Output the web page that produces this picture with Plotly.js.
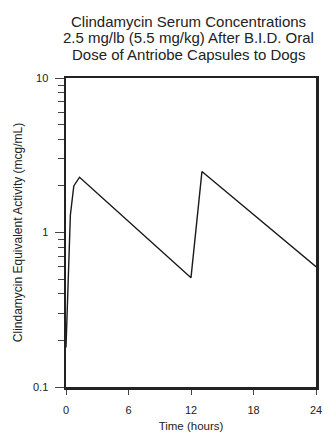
<!DOCTYPE html>
<html>
<head>
<meta charset="utf-8">
<script src="https://cdn.plot.ly/plotly-3.0.1.min.js"></script>
<style>html,body{margin:0;padding:0;background:#fff;}#chart{width:324px;height:435px;}</style>
</head>
<body>
<div id="chart"></div>
<script>
// Data
var timeHours = [0, 0.25, 0.42, 0.75, 1.3, 12, 13.05, 24];
var concentration = [0.18, 0.55, 1.3, 2.0, 2.28, 0.51, 2.48, 0.60];
var xTicks = [0, 6, 12, 18, 24];
var yTicks = [0.1, 1, 10];
var yTickLabels = ['0.1', '1', '10'];
var titleLines = [
  'Clindamycin Serum Concentrations',
  '2.5 mg/lb (5.5 mg/kg) After B.I.D. Oral',
  'Dose of Antriobe Capsules to Dogs'
];

var font = 'Liberation Sans, Arial, Helvetica, sans-serif';

// minor log ticks 2..9 in each decade
var minorVals = [];
[0.1, 1].forEach(function (d) {
  for (var k = 2; k <= 9; k++) minorVals.push(d * k);
});

var trace = {
  x: timeHours,
  y: concentration,
  type: 'scatter',
  mode: 'lines',
  line: {color: '#1a1a1a', width: 1.4},
  hoverinfo: 'skip'
};

var titleY = [1.183, 1.130, 1.076];
var annotations = titleLines.map(function (t, i) {
  return {
    text: t, xref: 'paper', yref: 'paper', x: 0.49, y: titleY[i],
    xanchor: 'center', yanchor: 'middle', showarrow: false,
    font: {family: font, size: 15, color: '#222'}
  };
});

var layout = {
  width: 324,
  height: 435,
  margin: {l: 66, r: 8, t: 78, b: 48},
  paper_bgcolor: '#fff',
  plot_bgcolor: '#fff',
  showlegend: false,
  font: {family: font, color: '#222', size: 11},
  annotations: annotations,
  xaxis: {
    range: [0, 24],
    tickvals: xTicks,
    ticktext: xTicks.map(String),
    ticks: 'outside', ticklen: 5, tickwidth: 1, tickcolor: '#444',
    ticklabelstandoff: 6,
    showline: true, linecolor: '#222', linewidth: 2.5, mirror: true,
    showgrid: false, zeroline: false,
    tickfont: {family: font, size: 11, color: '#222'},
    title: {text: 'Time (hours)', font: {family: font, size: 11.5, color: '#222'}, standoff: 7}
  },
  yaxis: {
    type: 'log',
    range: [-1, 1],
    tickvals: yTicks,
    ticktext: yTickLabels,
    ticks: 'outside', ticklen: 9, tickwidth: 1, tickcolor: '#444',
    ticklabelstandoff: 4,
    minor: {ticks: 'outside', ticklen: 6, tickwidth: 1, tickcolor: '#444', tickvals: minorVals, showgrid: false},
    showline: true, linecolor: '#222', linewidth: 2.5, mirror: true,
    showgrid: false, zeroline: false,
    tickfont: {family: font, size: 11, color: '#222'},
    title: {text: 'Clindamycin Equivalent Activity (mcg/mL)', font: {family: font, size: 12, color: '#222'}, standoff: 8}
  }
};

Plotly.newPlot('chart', [trace], layout, {staticPlot: true, displayModeBar: false});
</script>
</body>
</html>
